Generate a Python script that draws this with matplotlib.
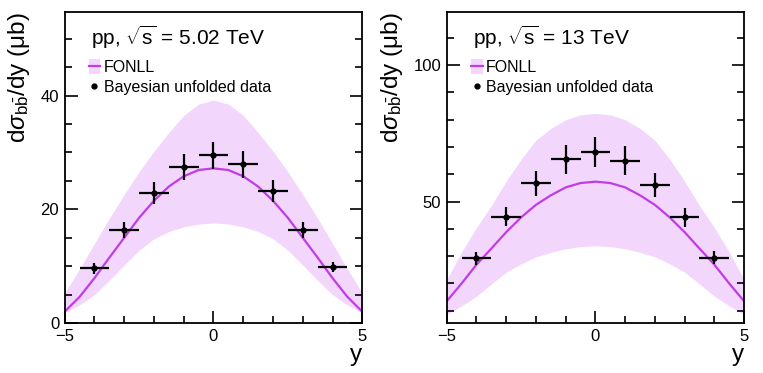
import numpy as np
import matplotlib
matplotlib.use("Agg")
import matplotlib.pyplot as plt
from matplotlib.patches import Patch
from matplotlib.lines import Line2D

plt.rcParams['font.family'] = ['Liberation Sans', 'DejaVu Sans']
plt.rcParams['mathtext.fontset'] = 'custom'
plt.rcParams['mathtext.rm'] = 'Liberation Sans'
plt.rcParams['mathtext.it'] = 'Liberation Sans:italic'
plt.rcParams['mathtext.sf'] = 'Liberation Sans'

# FONLL curves, read at steps of 0.5 in y
y_fonll = [-5.0, -4.5, -4.0, -3.5, -3.0, -2.5, -2.0, -1.5, -1.0, -0.5, 0.0,
           0.5, 1.0, 1.5, 2.0, 2.5, 3.0, 3.5, 4.0, 4.5, 5.0]

fonll_502 = [2.0, 4.6, 7.9, 11.5, 15.0, 18.5, 21.5, 24.0, 25.8, 26.9, 27.2,
             26.9, 25.8, 24.0, 21.5, 18.5, 15.0, 11.5, 7.9, 4.6, 2.0]
fonll_502_hi = [5.3, 9.5, 14.0, 18.4, 22.6, 26.6, 30.2, 33.5, 36.5, 38.5, 39.2,
                38.5, 36.5, 33.5, 30.2, 26.6, 22.6, 18.4, 14.0, 9.5, 5.3]
fonll_502_lo = [1.8, 3.2, 5.0, 7.5, 10.2, 12.8, 14.8, 16.1, 16.9, 17.4, 17.6,
                17.4, 16.9, 16.1, 14.8, 12.8, 10.2, 7.5, 5.0, 3.2, 1.8]

fonll_13 = [13.5, 20.0, 26.9, 32.8, 38.8, 44.2, 48.8, 52.3, 55.2, 56.8, 57.3,
            56.8, 55.2, 52.3, 48.8, 44.2, 38.8, 32.8, 26.9, 20.0, 13.5]
fonll_13_hi = [21.4, 31.5, 40.5, 48.5, 57.5, 65.5, 72.5, 76.8, 80.0, 81.8, 82.3,
               81.8, 80.0, 76.8, 72.5, 65.5, 57.5, 48.5, 40.5, 31.5, 21.4]
fonll_13_lo = [8.6, 11.8, 15.3, 19.8, 24.1, 27.2, 29.7, 31.4, 32.7, 33.5, 33.8,
               33.5, 32.7, 31.4, 29.7, 27.2, 24.1, 19.8, 15.3, 11.8, 8.6]

# Bayesian unfolded data
y_data = [-4, -3, -2, -1, 0, 1, 2, 3, 4]
y_width = [0.5] * 9

data_502 = [9.6, 16.4, 22.9, 27.4, 29.5, 27.9, 23.2, 16.4, 9.8]
err_502 = [0.9, 1.4, 1.9, 2.3, 2.4, 2.4, 1.9, 1.4, 0.9]

data_13 = [29.3, 44.5, 56.7, 65.5, 68.2, 64.9, 56.1, 44.3, 29.5]
err_13 = [2.4, 3.5, 4.6, 5.4, 5.5, 5.3, 4.3, 3.5, 2.3]

band_color = '#f3d6fc'
line_color = '#c03ce6'

fig = plt.figure(figsize=(7.63, 3.73), dpi=100)
ax1 = fig.add_axes([0.0848, 0.134, 0.390, 0.834])
ax2 = fig.add_axes([0.5855, 0.134, 0.3897, 0.834])

panels = [
    (ax1, fonll_502, fonll_502_lo, fonll_502_hi, data_502, err_502, '5.02',
     (0, 54.7), [0, 20, 40], np.arange(0, 55, 5)),
    (ax2, fonll_13, fonll_13_lo, fonll_13_hi, data_13, err_13, '13',
     (5.5, 119.5), [50, 100], np.arange(10, 120, 10)),
]

for ax, cen, lo, hi, dat, err, energy, ylim, majors, minors in panels:
    ax.fill_between(y_fonll, lo, hi, color=band_color, lw=0)
    ax.plot(y_fonll, cen, color=line_color, lw=1.6)
    ax.errorbar(y_data, dat, xerr=y_width, yerr=err, fmt='o', color='black',
                ms=3.5, elinewidth=1.6, capsize=0)

    ax.set_xlim(-5, 5)
    ax.set_ylim(*ylim)
    ax.set_xticks([-5, 0, 5])
    ax.set_xticks(np.arange(-5, 6, 1), minor=True)
    ax.set_yticks(majors)
    ax.set_yticks(minors, minor=True)
    ax.tick_params(which='both', direction='in', right=True, top=False,
                   labelsize=12, width=1.2, pad=4)
    ax.tick_params(which='major', length=9)
    ax.tick_params(which='minor', length=5)
    for s in ax.spines.values():
        s.set_linewidth(1.3)

    ax.set_ylabel(r'd$\sigma_{\mathrm{b\bar{b}}}$/dy ($\mathrm{\mu}$b)',
                  fontsize=17.5, loc='top', labelpad=6)
    ax.set_xlabel('y', fontsize=17.5, loc='right', labelpad=0)

    ax.text(0.09, 0.918, r'pp, $\sqrt{\mathrm{s}}$ = ' + energy + ' TeV',
            transform=ax.transAxes, fontsize=15, va='center')

    handles = [(Patch(facecolor=band_color, lw=0),
                Line2D([], [], color=line_color, lw=1.6)),
               Line2D([], [], ls='none', marker='o', color='black', ms=3.5)]
    ax.legend(handles, ['FONLL', 'Bayesian unfolded data'],
              loc='upper left', bbox_to_anchor=(0.08, 0.848), frameon=False,
              fontsize=11.5, handlelength=0.75, handleheight=1.0,
              handletextpad=0.2, labelspacing=0.28, borderaxespad=0,
              borderpad=0)

fig.savefig('out.png', dpi=100)
